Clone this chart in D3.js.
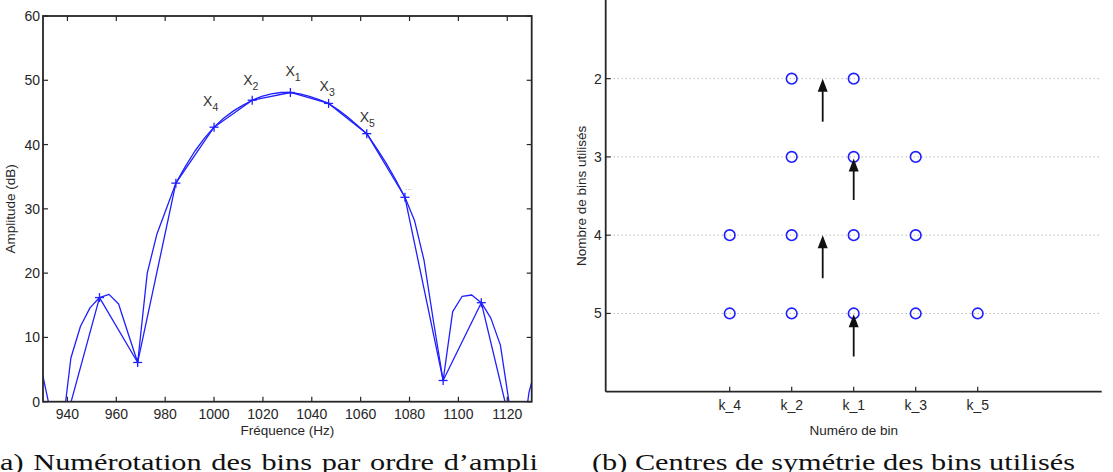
<!DOCTYPE html>
<html>
<head>
<meta charset="utf-8">
<script src="https://cdn.jsdelivr.net/npm/d3@7/dist/d3.min.js"></script>
<style>
  body { margin: 0; background: #fff; }
  svg { display: block; font-family: "Liberation Sans", Arial, Helvetica, sans-serif; }
</style>
</head>
<body>
<svg id="fig" width="1113" height="472"></svg>
<script>
// ── (a) spectrum: bins every 15.625 Hz and the finer curve ─────────────────────
const binFreqs = [937.5, 953.125, 968.75, 984.375, 1000, 1015.625, 1031.25,
                  1046.875, 1062.5, 1078.125, 1093.75, 1109.375, 1125];
const binAmps  = [-5.6, 16.2, 6.1, 34.0, 42.7, 46.9, 48.1,
                  46.4, 41.7, 31.8, 3.3, 15.4, -9.4];

const fineFreqs = [925.78, 929.69, 933.59, 937.5, 941.41, 945.31, 949.22, 953.13,
                   957.03, 960.94, 964.84, 968.75, 972.66, 976.56, 980.47, 984.38,
                   988.28, 992.19, 996.09, 1000, 1003.91, 1007.81, 1011.72, 1015.63,
                   1019.53, 1023.44, 1027.34, 1031.25, 1035.16, 1039.06, 1042.97, 1046.88,
                   1050.78, 1054.69, 1058.59, 1062.5, 1066.41, 1070.31, 1074.22, 1078.13,
                   1082.03, 1085.94, 1089.84, 1093.75, 1097.66, 1101.56, 1105.47, 1109.38,
                   1113.28, 1117.19, 1121.09, 1125, 1128.91, 1132.81];
const fineAmps  = [9.0, 4.5, -2.5, -5.6, 6.8, 11.7, 14.6, 16.2,
                   16.7, 15.2, 10.6, 6.1, 20.0, 26.0, 30.0, 34.0,
                   36.6, 39.0, 41.0, 42.7, 44.1, 45.2, 46.1, 46.9,
                   47.5, 47.9, 48.1, 48.1, 47.9, 47.5, 47.0, 46.4,
                   45.4, 44.3, 43.0, 41.7, 39.5, 37.2, 34.6, 31.8,
                   28.2, 22.0, 12.4, 3.3, 14.0, 16.4, 16.6, 15.4,
                   13.0, 8.8, -1.0, -9.4, 1.5, 7.0];

// bins carrying a "+" marker
const markedBins = [953.125, 968.75, 984.375, 1000, 1015.625, 1031.25,
                    1046.875, 1062.5, 1078.125, 1093.75, 1109.375];
// amplitude ranking labels X_n
const rankBins  = [1000, 1015.625, 1031.25, 1046.875, 1062.5];
const rankNames = ['4', '2', '1', '3', '5'];
const moreBin   = 1078.125;   // the little "..." label

const freqTicks = [940, 960, 980, 1000, 1020, 1040, 1060, 1080, 1100, 1120];
const ampTicks  = [0, 10, 20, 30, 40, 50, 60];

// ── (b) symmetry centres ───────────────────────────────────────────────────────
const binNames   = ['k_4', 'k_2', 'k_1', 'k_3', 'k_5'];
const binOffsets = [-2, -1, 0, 1, 2];
const countTicks = [2, 3, 4, 5];
const usedBins   = [['k_2', 'k_1'],
                    ['k_2', 'k_1', 'k_3'],
                    ['k_4', 'k_2', 'k_1', 'k_3'],
                    ['k_4', 'k_2', 'k_1', 'k_3', 'k_5']];
const arrowX    = [-0.5, 0, -0.5, 0];
const arrowTip  = [2, 3.02, 4, 5.01];
const arrowTail = [2.55, 3.55, 4.55, 5.55];

const captionA = "(a) Numérotation des bins par ordre d\u2019ampli";
const captionB = "(b) Centres de symétrie des bins utilisés";

// ── Styles ────────────────────────────────────────────────────────────────────
const AXIS = '#262626';
const BLUE = '#1f1fff';
const TICK_FONT = 14;

const svg = d3.select('#fig');

// ══ Panel (a) ═════════════════════════════════════════════════════════════════
const A = { x0: 43, x1: 531.7, y0: 16, y1: 401.7 };
const xA = d3.scaleLinear().domain([930, 1130]).range([A.x0, A.x1]);
const yA = d3.scaleLinear().domain([0, 60]).range([A.y1, A.y0]);

const gA = svg.append('g');
svg.append('defs').append('clipPath').attr('id', 'clipA')
  .append('rect').attr('x', A.x0).attr('y', A.y0)
  .attr('width', A.x1 - A.x0).attr('height', A.y1 - A.y0);

const linesA = gA.append('g').attr('clip-path', 'url(#clipA)');
const line = d3.line().x(d => xA(d[0])).y(d => yA(d[1]));

linesA.append('path')
  .datum(d3.zip(fineFreqs, fineAmps))
  .attr('d', line).attr('fill', 'none')
  .attr('stroke', BLUE).attr('stroke-width', 1.3).attr('stroke-linejoin', 'round');
linesA.append('path')
  .datum(d3.zip(binFreqs, binAmps))
  .attr('d', line).attr('fill', 'none')
  .attr('stroke', BLUE).attr('stroke-width', 1.3).attr('stroke-linejoin', 'round');

// "+" markers
const ampAt = f => binAmps[binFreqs.indexOf(f)];
const plus = gA.append('g').attr('stroke', BLUE).attr('stroke-width', 1.3);
markedBins.forEach(f => {
  const cx = xA(f), cy = yA(ampAt(f));
  plus.append('line').attr('x1', cx - 4.5).attr('x2', cx + 4.5).attr('y1', cy).attr('y2', cy);
  plus.append('line').attr('x1', cx).attr('x2', cx).attr('y1', cy - 4.5).attr('y2', cy + 4.5);
});

// X_n labels (offsets in px from the marker: left edge, baseline)
const rankOffsets = [[-11, -21], [-9, -15], [-5, -16], [-9, -12], [-7, -12]];
rankBins.forEach((f, i) => {
  const t = gA.append('text')
    .attr('x', xA(f) + rankOffsets[i][0])
    .attr('y', yA(ampAt(f)) + rankOffsets[i][1])
    .attr('fill', '#333').attr('font-size', 14);
  t.append('tspan').text('X');
  t.append('tspan').attr('dy', 5).attr('font-size', 10.5).text(rankNames[i]);
});
gA.append('text')
  .attr('x', xA(moreBin) + 0).attr('y', yA(ampAt(moreBin)) - 7)
  .attr('fill', '#999').attr('font-size', 8).text('...');

// box + ticks
gA.append('rect')
  .attr('x', A.x0).attr('y', A.y0)
  .attr('width', A.x1 - A.x0).attr('height', A.y1 - A.y0)
  .attr('fill', 'none').attr('stroke', AXIS).attr('stroke-width', 1.8);

const ticksA = gA.append('g').attr('stroke', AXIS).attr('stroke-width', 1.2);
freqTicks.forEach(f => {
  const x = xA(f);
  ticksA.append('line').attr('x1', x).attr('x2', x).attr('y1', A.y1).attr('y2', A.y1 - 5);
  ticksA.append('line').attr('x1', x).attr('x2', x).attr('y1', A.y0).attr('y2', A.y0 + 5);
});
ampTicks.forEach(a => {
  const y = yA(a);
  ticksA.append('line').attr('x1', A.x0).attr('x2', A.x0 + 5).attr('y1', y).attr('y2', y);
  ticksA.append('line').attr('x1', A.x1).attr('x2', A.x1 - 5).attr('y1', y).attr('y2', y);
});

gA.append('g').selectAll('text').data(freqTicks).join('text')
  .attr('x', d => xA(d)).attr('y', A.y1 + 17.5)
  .attr('text-anchor', 'middle').attr('font-size', TICK_FONT).attr('fill', AXIS)
  .text(d => d);
gA.append('g').selectAll('text').data(ampTicks).join('text')
  .attr('x', A.x0 - 3).attr('y', d => yA(d) + 5)
  .attr('text-anchor', 'end').attr('font-size', TICK_FONT).attr('fill', AXIS)
  .text(d => d);

gA.append('text')
  .attr('x', (A.x0 + A.x1) / 2).attr('y', A.y1 + 33)
  .attr('text-anchor', 'middle').attr('font-size', 13.5).attr('fill', AXIS)
  .text('Fréquence (Hz)');
gA.append('text')
  .attr('transform', `translate(${15},${(A.y0 + A.y1) / 2}) rotate(-90)`)
  .attr('text-anchor', 'middle').attr('font-size', 13.5).attr('fill', AXIS)
  .text('Amplitude (dB)');

// ══ Panel (b) ═════════════════════════════════════════════════════════════════
const B = { x0: 605.7, x1: 1101.7, y0: 0, y1: 391.7 };
const xB = d3.scaleLinear().domain([-4, 4]).range([B.x0, B.x1]);
const yB = d3.scaleLinear().domain([1, 6]).range([B.y0 + 0.4, B.y1]);
const gB = svg.append('g');
const offsetOf = name => binOffsets[binNames.indexOf(name)];

// dotted grid
gB.append('g').selectAll('line').data(countTicks).join('line')
  .attr('x1', B.x0).attr('x2', B.x1)
  .attr('y1', d => yB(d)).attr('y2', d => yB(d))
  .attr('stroke', '#9a9a9a').attr('stroke-width', 1).attr('stroke-dasharray', '1,3');

// circles
countTicks.forEach((row, i) => {
  gB.append('g').selectAll('circle').data(usedBins[i]).join('circle')
    .attr('cx', d => xB(offsetOf(d))).attr('cy', yB(row)).attr('r', 5.3)
    .attr('fill', 'none').attr('stroke', BLUE).attr('stroke-width', 1.6);
});

// arrows
const headLen = 13, headHalf = 5;
arrowX.forEach((ax, i) => {
  const x = xB(ax), yTip = yB(arrowTip[i]), yTail = yB(arrowTail[i]);
  gB.append('line').attr('x1', x).attr('x2', x)
    .attr('y1', yTail).attr('y2', yTip + headLen - 1)
    .attr('stroke', '#111').attr('stroke-width', 1.8);
  gB.append('path')
    .attr('d', `M${x},${yTip} L${x - headHalf},${yTip + headLen} L${x + headHalf},${yTip + headLen} Z`)
    .attr('fill', '#111');
});

// axes lines
gB.append('line').attr('x1', B.x0).attr('x2', B.x0).attr('y1', B.y0).attr('y2', B.y1)
  .attr('stroke', AXIS).attr('stroke-width', 1.8);
gB.append('line').attr('x1', B.x0).attr('x2', B.x1).attr('y1', B.y1).attr('y2', B.y1)
  .attr('stroke', AXIS).attr('stroke-width', 1.8);

const ticksB = gB.append('g').attr('stroke', AXIS).attr('stroke-width', 1.2);
binOffsets.forEach(o => {
  ticksB.append('line').attr('x1', xB(o)).attr('x2', xB(o)).attr('y1', B.y1).attr('y2', B.y1 - 5);
});
countTicks.forEach(c => {
  ticksB.append('line').attr('x1', B.x0).attr('x2', B.x0 + 5).attr('y1', yB(c)).attr('y2', yB(c));
});

gB.append('g').selectAll('text').data(binNames).join('text')
  .attr('x', (d, i) => xB(binOffsets[i])).attr('y', B.y1 + 18)
  .attr('text-anchor', 'middle').attr('font-size', TICK_FONT).attr('fill', AXIS)
  .text(d => d);
gB.append('g').selectAll('text').data(countTicks).join('text')
  .attr('x', B.x0 - 4).attr('y', d => yB(d) + 5)
  .attr('text-anchor', 'end').attr('font-size', TICK_FONT).attr('fill', AXIS)
  .text(d => d);

gB.append('text')
  .attr('x', (B.x0 + B.x1) / 2).attr('y', B.y1 + 43)
  .attr('text-anchor', 'middle').attr('font-size', 13.5).attr('fill', AXIS)
  .text('Numéro de bin');
gB.append('text')
  .attr('transform', `translate(${586},${(B.y0 + B.y1) / 2}) rotate(-90)`)
  .attr('text-anchor', 'middle').attr('font-size', 13.5).attr('fill', AXIS)
  .text('Nombre de bins utilisés');

// ══ Captions (wide LaTeX roman; caption (a) is a justified line) ═════════════
const capFont = '"Liberation Serif", "DejaVu Serif", serif';
const CAP_Y = 470;
function captionText(txt, x) {
  const g = svg.append('g');
  const t = g.append('text').attr('x', 0).attr('y', 0)
    .attr('font-family', capFont).attr('font-size', 24).attr('fill', '#111').text(txt);
  return { g, t, len: t.node().getComputedTextLength(), x };
}
const capB = captionText(captionB, 592);
const sx = 483 / capB.len;                 // glyph widening to match the roman font
capB.g.attr('transform', `translate(${capB.x},${CAP_Y}) scale(${sx},1)`);

const capA = captionText(captionA, -10);
const gapsA = captionA.split(' ').length - 1;
capA.t.attr('word-spacing', Math.max(0, (548 / sx - capA.len) / gapsA));
capA.g.attr('transform', `translate(${capA.x},${CAP_Y}) scale(${sx},1)`);
</script>
</body>
</html>
